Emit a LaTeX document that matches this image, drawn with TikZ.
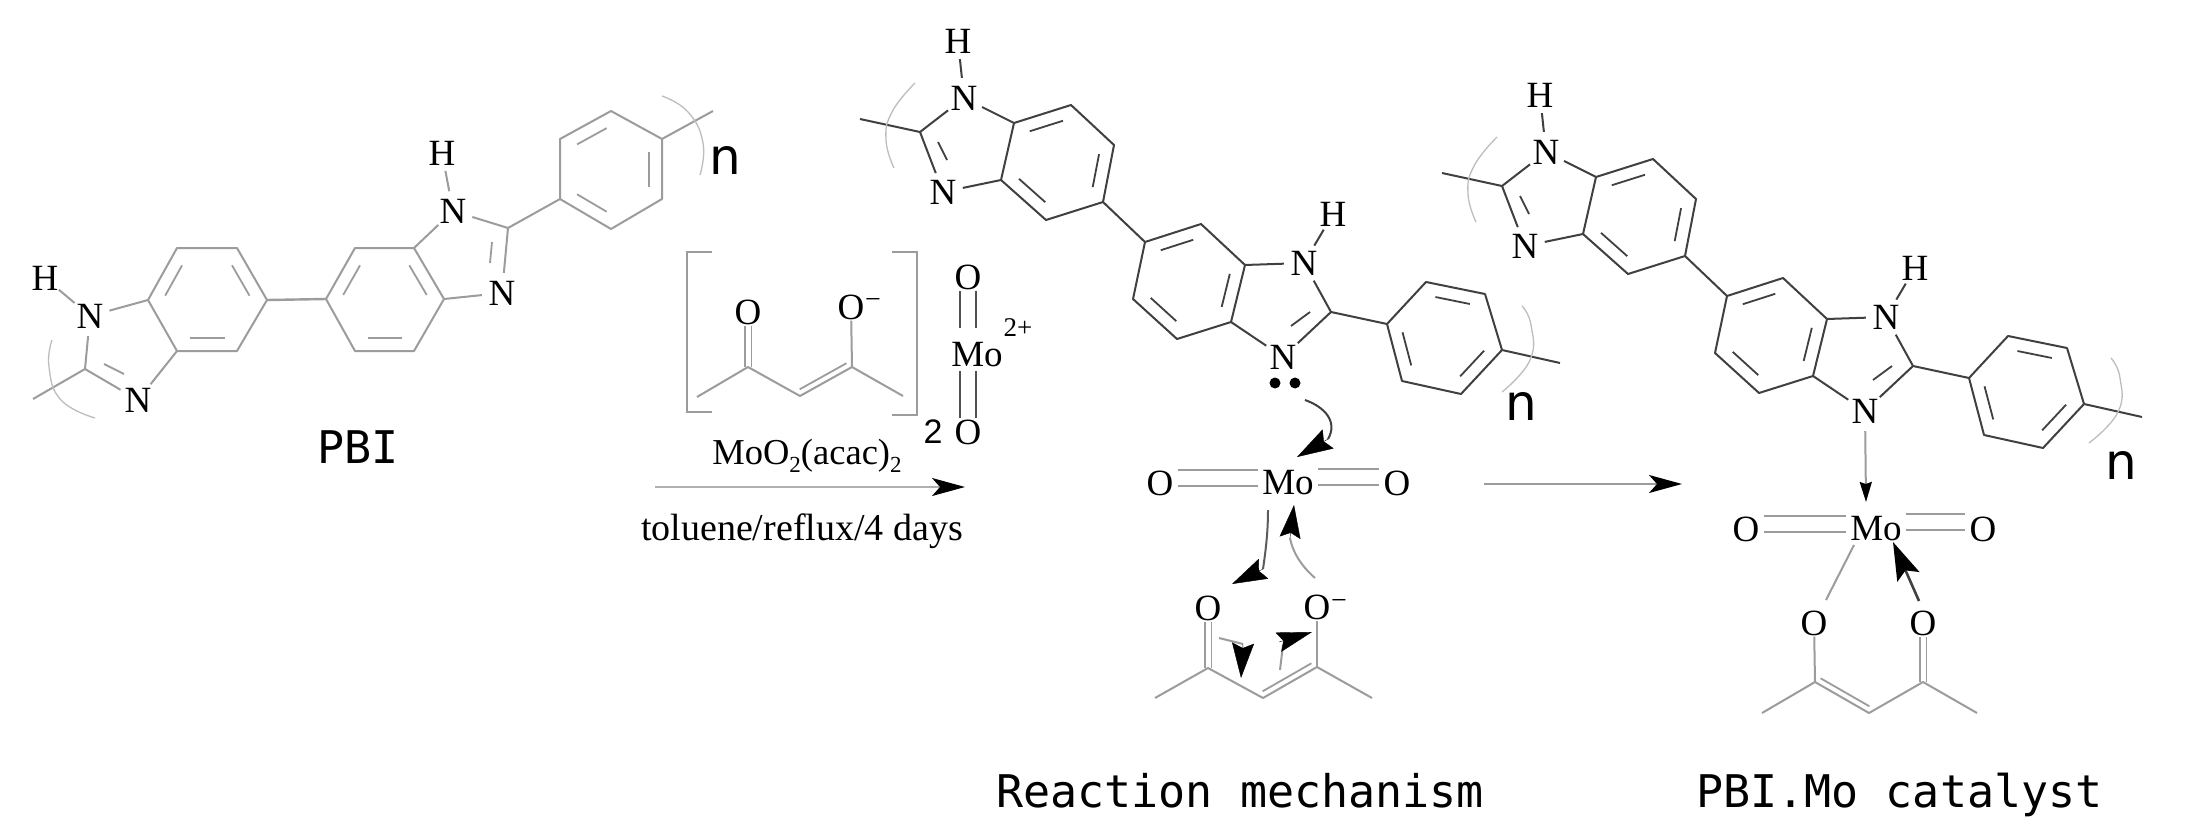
\documentclass[tikz,border=0pt]{standalone}
\usepackage{fontspec}
\usetikzlibrary{calc,arrows.meta}
\newfontfamily\atomfont{Liberation Serif}
\newfontfamily\capfont{DejaVu Sans Mono}
\newfontfamily\nfont{DejaVu Sans}
\newfontfamily\twofont{Liberation Sans}
\definecolor{gline}{HTML}{9C9C9C}
\definecolor{dline}{HTML}{404040}
\definecolor{arcline}{HTML}{BDBDBD}
\definecolor{aline}{HTML}{B0B0B0}
\tikzset{
 gb/.style={draw=gline,line width=2pt},
 db/.style={draw=dline,line width=2pt},
 arcb/.style={draw=arcline,line width=1.3pt},
 atomn/.style={circle,inner sep=0pt,minimum size=40pt,text=black,font=\atomfont\fontsize{37}{37}\selectfont},
 atomh/.style={circle,inner sep=0pt,minimum size=28pt,text=black,font=\atomfont\fontsize{37}{37}\selectfont},
 atomo/.style={rectangle,inner xsep=4pt,inner ysep=1pt,text=black,font=\atomfont\fontsize{37}{37}\selectfont},
 minusn/.style={inner sep=0pt,text=black,font=\atomfont\fontsize{28}{28}\selectfont},
 capn/.style={anchor=base west,inner sep=0pt,text=black,font=\capfont\fontsize{45}{45}\selectfont},
 nn/.style={inner sep=0pt,text=black,font=\nfont\fontsize{50}{50}\selectfont},
 txtn/.style={inner sep=0pt,text=black,font=\atomfont\fontsize{36.5}{38}\selectfont},
 dbl/.style={double=white,double distance=#1,line width=1.8pt,line cap=butt},
 arr/.style={draw=aline,line width=2pt,-{Stealth[length=33pt,width=18pt,inset=8pt,black]}},
 head/.style 2 args={draw=black,line width=.4pt,-{Stealth[length=#1,width=#2,inset=5pt,black]}},
}
% inner stroke of a ring double bond
\newcommand\ringin[4]{\draw[#1,line width=1.8pt,shorten <=5pt,shorten >=5pt] ($(#2)!.25!(#4)$) -- ($(#3)!.25!(#4)$);}
% inner stroke of a C=C double bond
\newcommand\ccin[3]{\draw[#1,line width=1.8pt,shorten <=3pt,shorten >=3pt] ($(#2)!6pt!90:(#3)$) -- ($(#3)!6pt!-90:(#2)$);}
% the dark polymer unit used in the middle and on the right
\newcommand\polymer[1]{%
 \node[atomh] (#1H1) at (958,41) {H};
 \node[atomn] (#1N1) at (964,98) {N};
 \node[atomn] (#1N2) at (943,192) {N};
 \node[atomh] (#1H3) at (1333,214) {H};
 \node[atomn] (#1N3) at (1304,263) {N};
 \node[atomn] (#1N4) at (1283,357) {N};
 \coordinate (#1me) at (860,119);
 \coordinate (#1c2) at (920,132);
 \coordinate (#1a) at (1014,123);
 \coordinate (#1b) at (1071,105);
 \coordinate (#1c) at (1114,145);
 \coordinate (#1d) at (1103,202);
 \coordinate (#1e) at (1046,220);
 \coordinate (#1f) at (1001,180);
 \coordinate (#1r1) at (1058,162);
 \coordinate (#1g) at (1145,242);
 \coordinate (#1h) at (1201,224);
 \coordinate (#1i) at (1245,265);
 \coordinate (#1j) at (1231,322);
 \coordinate (#1k) at (1177,339);
 \coordinate (#1l) at (1133,299);
 \coordinate (#1r2) at (1189,281);
 \coordinate (#1c5) at (1331,312);
 \coordinate (#1p) at (1387,324);
 \coordinate (#1q) at (1426,282);
 \coordinate (#1r) at (1485,294);
 \coordinate (#1s) at (1502,350);
 \coordinate (#1t) at (1461,394);
 \coordinate (#1u) at (1402,381);
 \coordinate (#1r3) at (1444,338);
 \coordinate (#1end) at (1560,363);
 \draw[db] (#1H1) -- (#1N1);
 \draw[db] (#1me) -- (#1c2) -- (#1N1);
 \draw[db] (#1c2) -- (#1N2);
 \draw[db,line width=1.8pt] (938,142) -- (947,160);
 \draw[db,line join=round] (#1N1) -- (#1a) -- (#1b) -- (#1c) -- (#1d) -- (#1e) -- (#1f) -- (#1a);
 \draw[db] (#1f) -- (#1N2);
 \ringin{db}{#1a}{#1b}{#1r1}
 \ringin{db}{#1c}{#1d}{#1r1}
 \ringin{db}{#1e}{#1f}{#1r1}
 \draw[db,line join=round] (#1d) -- (#1g) -- (#1h) -- (#1i) -- (#1j) -- (#1k) -- (#1l) -- (#1g);
 \ringin{db}{#1g}{#1h}{#1r2}
 \ringin{db}{#1i}{#1j}{#1r2}
 \ringin{db}{#1k}{#1l}{#1r2}
 \draw[db,line join=round] (#1i) -- (#1N3) -- (#1c5) -- (#1N4) -- (#1j);
 \draw[db] (#1N3) -- (#1H3);
 \draw[db,line width=1.8pt] (1310,312) -- (1291,326);
 \draw[db,line join=round] (#1c5) -- (#1p) -- (#1q) -- (#1r) -- (#1s) -- (#1t) -- (#1u) -- (#1p);
 \ringin{db}{#1q}{#1r}{#1r3}
 \ringin{db}{#1s}{#1t}{#1r3}
 \ringin{db}{#1u}{#1p}{#1r3}
 \draw[db] (#1s) -- (#1end);
 \draw[arcb] plot[smooth,tension=.8] coordinates {(915,83) (892,112) (886,140) (894,168)};
}
\begin{document}
\begin{tikzpicture}[x=1pt,y=-1pt]
\useasboundingbox (0,0) rectangle (2190,827);
\fill[white] (0,0) rectangle (2190,827);

%% ---- left PBI ----
\node[atomh] (lH1) at (45,278) {H};
\node[atomn] (lN1) at (90,316) {N};
\node[atomn] (lN2) at (138,400) {N};
\node[atomh] (lH2) at (442,153) {H};
\node[atomn] (lN3) at (453,211) {N};
\node[atomn] (lN4) at (502,293) {N};
\coordinate (lme) at (33,399);
\coordinate (lc2) at (85,369);
\coordinate (la) at (148,300);
\coordinate (lb) at (177,248);
\coordinate (lc) at (237,248);
\coordinate (ld) at (267,300);
\coordinate (le) at (237,351);
\coordinate (lf) at (177,351);
\coordinate (lr1) at (207,300);
\coordinate (lg) at (326,299);
\coordinate (lh) at (355,248);
\coordinate (li) at (414,248);
\coordinate (lj) at (444,299);
\coordinate (lk) at (414,351);
\coordinate (ll) at (355,351);
\coordinate (lr2) at (385,300);
\coordinate (lc5) at (508,228);
\coordinate (lp) at (560,199);
\coordinate (lq) at (560,139);
\coordinate (lr) at (611,111);
\coordinate (ls) at (662,139);
\coordinate (lt) at (662,199);
\coordinate (lu) at (611,229);
\coordinate (lr3) at (611,170);
\coordinate (lend) at (713,111);
\draw[gb] (lH1) -- (lN1);
\draw[gb] (lme) -- (lc2) -- (lN1);
\draw[gb] (lc2) -- (lN2);
\draw[gb,line width=1.8pt] (104,364) -- (124,374);
\draw[gb,line join=round] (lN1) -- (la) -- (lb) -- (lc) -- (ld) -- (le) -- (lf) -- (la);
\draw[gb] (lf) -- (lN2);
\ringin{gb}{la}{lb}{lr1}
\ringin{gb}{lc}{ld}{lr1}
\ringin{gb}{le}{lf}{lr1}
\draw[gb,line width=2.4pt] (ld) -- (lg);
\draw[gb,line join=round] (lg) -- (lh) -- (li) -- (lj) -- (lk) -- (ll) -- (lg);
\ringin{gb}{lg}{lh}{lr2}
\ringin{gb}{li}{lj}{lr2}
\ringin{gb}{lk}{ll}{lr2}
\draw[gb,line join=round] (li) -- (lN3) -- (lc5) -- (lN4) -- (lj);
\draw[gb] (lN3) -- (lH2);
\draw[gb,line width=1.8pt] (492,242) -- (490,263);
\draw[gb,line join=round] (lc5) -- (lp) -- (lq) -- (lr) -- (ls) -- (lt) -- (lu) -- (lp);
\ringin{gb}{lq}{lr}{lr3}
\ringin{gb}{ls}{lt}{lr3}
\ringin{gb}{lu}{lp}{lr3}
\draw[gb] (ls) -- (lend);
\draw[arcb] plot[smooth,tension=.8] coordinates {(52,340) (49,367) (61,400) (95,418)};
\draw[arcb] plot[smooth,tension=.8] coordinates {(662,96) (688,112) (703,143) (700,175)};
\node[nn] (ln) at (725,160) {n};
\node[capn] (lcap) at (317,463) {PBI};

%% ---- reagent ----
\draw[gb,line width=2.4pt] (712,252) -- (687,252) -- (687,412) -- (712,412);
\draw[gb,line width=2.4pt] (892,252) -- (917,252) -- (917,415) -- (892,415);
\node[atomo] (tO1) at (748,312) {O};
\node[atomo] (tO2) at (851,307) {O};
\node[minusn] (tm) at (873,303) {−};
\coordinate (tc1) at (748,367);
\coordinate (tme1) at (697,397);
\coordinate (tch) at (800,396);
\coordinate (tc2) at (852,367);
\coordinate (tme2) at (903,396);
\draw[gb,dbl=5pt,draw=gline] (tO1) -- (tc1);
\draw[gb] (tO2) -- (tc2);
\draw[gb,line join=round] (tme1) -- (tc1) -- (tch) -- (tc2) -- (tme2);
\ccin{gb}{tch}{tc2}
\node[atomo] (rO1) at (968,277) {O};
\node[atomn,minimum size=1pt] (rMo) at (977,355) {Mo};
\node[atomo] (rO2) at (968,432) {O};
\coordinate (rA) at (968,328);
\coordinate (rB) at (968,371);
\draw[gb,dbl=13.5pt,draw=dline!80!gline] (rO1) -- (rA);
\draw[gb,dbl=13.5pt,draw=dline!80!gline] (rB) -- (rO2);
\node[inner sep=0pt,font=\atomfont\fontsize{27}{27}\selectfont] (rq) at (1018,328) {2+};
\node[inner sep=0pt,font=\twofont\fontsize{34}{34}\selectfont] (r2) at (933,432) {2};
\node[txtn] (rname) at (807,456) {MoO\raisebox{-.22em}{\fontsize{23}{23}\selectfont 2}(acac)\raisebox{-.22em}{\fontsize{23}{23}\selectfont 2}};
\coordinate (a1s) at (655,487);
\coordinate (a1e) at (965,487);
\draw[arr] (a1s) -- (a1e);
\node[txtn,font=\atomfont\fontsize{38}{38}\selectfont] (rcond) at (802,531) {toluene/reflux/4 days};

%% ---- middle polymer ----
\polymer{m}
\draw[arcb] plot[smooth,tension=.8] coordinates {(1522,306) (1531,325) (1530,360) (1502,392)};
\node[nn] (mn) at (1521,406) {n};
\fill[black] (1275,383) circle (5.5pt);
\fill[black] (1295,383) circle (5.5pt);

\node[atomo] (mOl) at (1160,483) {O};
\node[atomo] (mMo) at (1288,483) {Mo};
\node[atomo] (mOr) at (1397,483) {O};
\draw[gb,dbl=14pt] ([yshift=5pt]mOl.east) -- ([yshift=5pt]mMo.west);
\draw[gb,dbl=14pt] ([yshift=6pt]mMo.east) -- ([yshift=6pt]mOr.west);

\coordinate (cA0) at (1305,400);
\coordinate (cA1) at (1328,439);
\coordinate (cA2) at (1297,457);
\draw[db] (cA0) .. controls (1325,407) and (1338,422) .. (cA1);
\draw[head={36pt}{22pt}] (cA1) -- (cA2);
\coordinate (cB0) at (1268,510);
\coordinate (cB1) at (1263,569);
\coordinate (cB2) at (1232,584);
\draw[db,draw=dline!70!gline] (cB0) .. controls (1268,535) and (1265,555) .. (cB1);
\draw[head={35pt}{22pt}] (cB1) -- (cB2);
\coordinate (cC0) at (1315,578);
\coordinate (cC1) at (1290,538);
\coordinate (cC2) at (1294,505);
\draw[gb] (cC0) .. controls (1300,565) and (1292,550) .. (cC1);
\draw[head={33pt}{21pt}] (cC1) -- (cC2);

\node[atomo] (nO1) at (1208,608) {O};
\node[atomo] (nO2) at (1317,607) {O};
\node[minusn] (nm) at (1339,604) {−};
\coordinate (nc1) at (1208,668);
\coordinate (nme1) at (1155,698);
\coordinate (nch) at (1263,698);
\coordinate (nc2) at (1317,667);
\coordinate (nme2) at (1372,698);
\draw[gb,dbl=5pt] (nO1) -- (nc1);
\draw[gb] (nO2) -- (nc2);
\draw[gb,line join=round] (nme1) -- (nc1) -- (nch) -- (nc2) -- (nme2);
\ccin{gb}{nch}{nc2}
\coordinate (cD0) at (1219,638);
\coordinate (cD1) at (1243,644);
\coordinate (cD2) at (1241,678);
\draw[gb] (cD0) -- (cD1);
\draw[head={35pt}{22pt}] (cD1) -- (cD2);
\coordinate (cE0) at (1280,670);
\coordinate (cE1) at (1279,642);
\coordinate (cE2) at (1312,632);
\draw[gb] (cE0) -- (1283,645);
\draw[head={35pt}{20pt}] (cE1) -- (cE2);

\coordinate (a2s) at (1484,484);
\coordinate (a2e) at (1682,484);
\draw[arr,draw=gline] (a2s) -- (a2e);
\node[capn] (mcap) at (996,807) {Reaction mechanism};

%% ---- right polymer ----
\begin{scope}[shift={(582,54)}]
\polymer{p}
\end{scope}
\draw[arcb] plot[smooth,tension=.8] coordinates {(2111,358) (2120,378) (2118,412) (2089,443)};
\node[nn] (pn) at (2121,465) {n};

\node[atomo] (qOl) at (1746,529) {O};
\node[atomo] (qMo) at (1876,529) {Mo};
\node[atomo] (qOr) at (1983,529) {O};
\draw[gb,dbl=14pt] ([yshift=5pt]qOl.east) -- ([yshift=5pt]qMo.west);
\draw[gb,dbl=14pt] ([yshift=7pt]qMo.east) -- ([yshift=7pt]qOr.west);
\coordinate (qT) at (1866,502);
\draw[gb,-{Stealth[length=20pt,width=12pt,inset=2pt,black]}] (pN4) -- (qT);
\node[atomo] (qO1) at (1814,623) {O};
\node[atomo] (qO2) at (1923,623) {O};
\coordinate (qc1) at (1815,682);
\coordinate (qme1) at (1762,713);
\coordinate (qch) at (1869,713);
\coordinate (qc2) at (1923,682);
\coordinate (qme2) at (1977,713);
\coordinate (qM1) at (1854,545);
\coordinate (qM2) at (1826,600);
\draw[gb] (qM1) -- (qM2);
\coordinate (qM3) at (1919,601);
\coordinate (qM4) at (1893,542);
\draw[draw=dline,line width=2.6pt,-{Stealth[length=38pt,width=24pt,inset=7pt,black]}] (qM3) -- (qM4);
\draw[gb] (qO1) -- (qc1);
\draw[gb,dbl=5pt] (qO2) -- (qc2);
\draw[gb,line join=round] (qme1) -- (qc1) -- (qch) -- (qc2) -- (qme2);
\ccin{gb}{qc1}{qch}
\node[capn] (qcap) at (1696,807) {PBI.Mo catalyst};
\end{tikzpicture}
\end{document}
